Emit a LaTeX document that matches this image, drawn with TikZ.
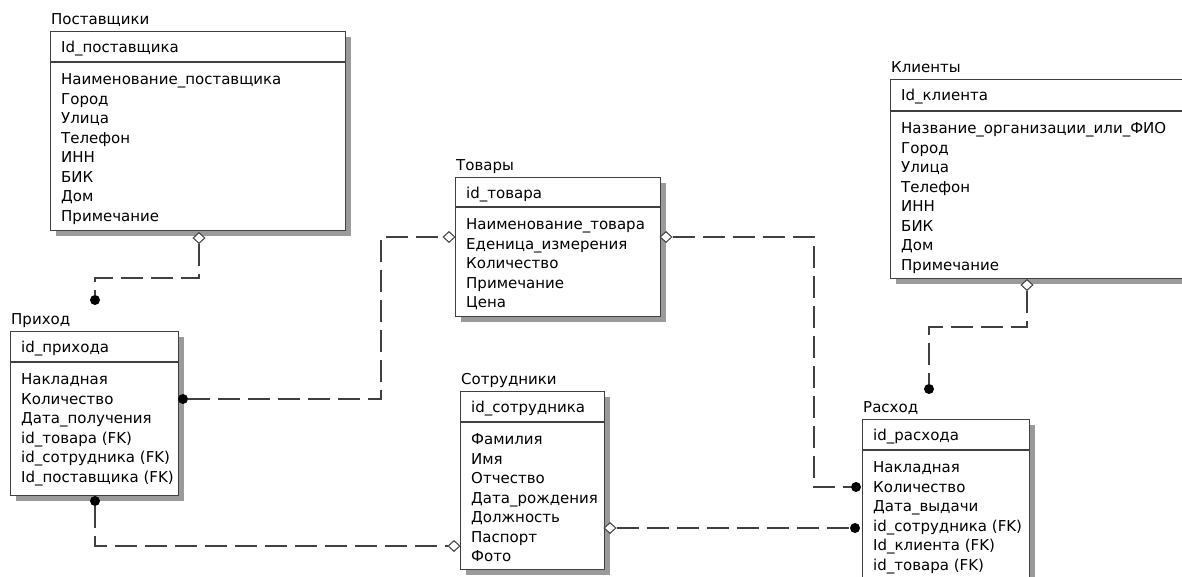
\documentclass[tikz,border=0pt]{standalone}
\usepackage{fontspec}
\setmainfont{DejaVu Sans}
\usetikzlibrary{shapes.geometric,shadows}
\definecolor{lineC}{HTML}{404040}
\definecolor{shadC}{HTML}{9A9A9A}
\tikzset{
 entbox/.style={draw=lineC, line width=1.1pt, fill=white, inner sep=0pt,
   general shadow={fill=shadC, shadow xshift=5pt, shadow yshift=-5pt}},
 entsep/.style={draw=lineC, line width=1.1pt},
 enttext/.style={font=\fontsize{15}{18}\selectfont, inner sep=0pt, text=black},
 conn/.style={draw=lineC, line width=1.2pt, dash pattern=on 22pt off 8pt},
 endot/.style={circle, fill=black, inner sep=0pt, minimum size=10pt},
 endia/.style={diamond, draw=lineC, fill=white, line width=1pt, inner sep=0pt,
   minimum width=12pt, minimum height=11pt},
}
% #1 name, #2 x, #3 y, #4 w, #5 h, #6 header h, #7 title, #8 key, #9 attributes
\newcommand{\ERent}[9]{%
  \node[entbox, minimum width=#4, minimum height=#5, anchor=north west] (#1) at (#2,#3) {};
  \node[enttext, anchor=base west] (#1-t) at (#2+1,#3-7) {#7};
  \draw[entsep] (#2,#3+#6) -- (#2+#4,#3+#6);
  \node[enttext, anchor=base west] (#1-k) at (#2+11,#3+21.5) {#8};
  \foreach \a [count=\i] in {#9}
    \node[enttext, anchor=base west] (#1-\i) at (#2+11,#3+#6+22.5+19.5*\i-19.5) {\a};
}
\begin{document}
\begin{tikzpicture}[x=1pt,y=-1pt]
\useasboundingbox (0,0) rectangle (1182,576);
\clip (0,0) rectangle (1182,576);

\ERent{post}{50}{31}{295}{199}{31}{Поставщики}{Id\_поставщика}%
 {Наименование\_поставщика,Город,Улица,Телефон,ИНН,БИК,Дом,Примечание}
\ERent{prih}{10}{331}{168}{164}{31}{Приход}{id\_прихода}%
 {Накладная,Количество,Дата\_получения,id\_товара (FK),id\_сотрудника (FK),Id\_поставщика (FK)}
\ERent{tov}{455}{177}{205}{139}{30}{Товары}{id\_товара}%
 {Наименование\_товара,Еденица\_измерения,Количество,Примечание,Цена}
\ERent{kli}{890}{79}{305}{199}{32}{Клиенты}{Id\_клиента}%
 {Название\_организации\_или\_ФИО,Город,Улица,Телефон,ИНН,БИК,Дом,Примечание}
\ERent{sotr}{460}{391}{144}{178}{31}{Сотрудники}{id\_сотрудника}%
 {Фамилия,Имя,Отчество,Дата\_рождения,Должность,Паспорт,Фото}
\ERent{rash}{862}{419}{167}{180}{31}{Расход}{id\_расхода}%
 {Накладная,Количество,Дата\_выдачи,id\_сотрудника (FK),Id\_клиента (FK),id\_товара (FK)}

% relationship end markers
\node[endia] (m1) at (199,238) {};
\node[endot] (d1) at (95,300) {};
\node[endot] (d2) at (183,399) {};
\node[endia] (m2) at (449,237) {};
\node[endia] (m3) at (666,237) {};
\node[endot] (d3) at (856,487) {};
\node[endia] (m4) at (1027,285) {};
\node[endot] (d4) at (929,389) {};
\node[endot] (d5) at (95,501) {};
\node[endia] (m5) at (454,546) {};
\node[endia] (m6) at (610,528) {};
\node[endot] (d6) at (855,528) {};

\coordinate (c1) at (95,278);
\coordinate (c2) at (381,399);
\coordinate (c3) at (814,487);
\coordinate (c4) at (929,327);
\coordinate (c5) at (95,546);

\draw[conn] (m1.south) |- (c1) -- (d1.north);
\draw[conn] (d2.east) -- (c2) |- (m2.west);
\draw[conn] (m3.east) -| (c3) -- (d3.west);
\draw[conn] (m4.south) |- (c4) -- (d4.north);
\draw[conn] (d5.south) -- (c5) -- (m5.west);
\draw[conn] (m6.east) -- (d6.west);
\end{tikzpicture}
\end{document}
